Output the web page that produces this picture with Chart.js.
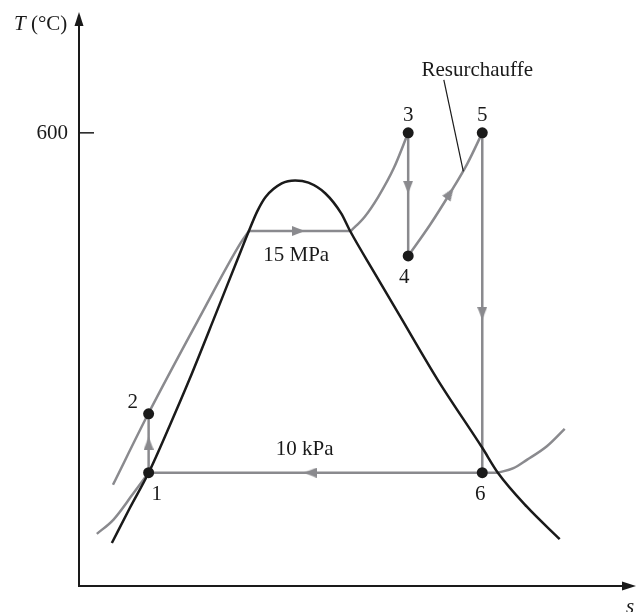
<!DOCTYPE html>
<html>
<head>
<meta charset="utf-8">
<script src="https://cdn.jsdelivr.net/npm/chart.js@4.4.1/dist/chart.umd.min.js"></script>
<style>
  html, body { margin: 0; padding: 0; background: #fff; }
  canvas { display: block; }
</style>
</head>
<body>
<canvas id="tsChart" width="644" height="612"></canvas>
<script>
// Cloche de saturation
const domeS = [0.59, 0.91, 1.25, 1.62, 1.98, 2.46, 2.87, 3.05, 3.20, 3.35, 3.64, 3.88, 4.12, 4.42, 4.71, 4.86, 5.31, 5.75, 6.44, 7.24, 7.52, 8.04, 8.63];
const domeT = [57, 103, 150, 211, 273, 361, 437, 470, 496, 515, 533, 537, 534, 520, 493, 471, 414, 359, 273, 183, 150, 105, 62];

// États du cycle
const etatLabels = ['1', '2', '3', '4', '5', '6'];
const etatS = [1.25, 1.25, 5.91, 5.91, 7.24, 7.24];
const etatT = [150, 228, 600, 437, 600, 150];

// Isobare 15 MPa
const hpLiqS = [0.61, 1.25, 2.16, 2.90, 3.05];
const hpLiqT = [134, 229, 355, 454, 470];
const hpVapS = [3.05, 4.88];
const hpVapT = [470, 470];
const hpSurS = [4.88, 5.13, 5.37, 5.65, 5.91];
const hpSurT = [470, 489, 515, 553, 600];

// Resurchauffe 4 -> 5
const rehS = [5.91, 6.30, 6.66, 6.97, 7.24];
const rehT = [437, 478, 520, 559, 600];

// Isobare 10 kPa
const bpLiqS = [0.32, 0.62, 0.97, 1.25];
const bpLiqT = [69, 88, 122, 150];
const bpCondS = [7.52, 1.25];
const bpCondT = [150, 150];
const bpVapS = [7.52, 7.80, 8.04, 8.40, 8.72];
const bpVapT = [150, 156, 167, 185, 208];

// Flèches (sens de parcours)
const flecheS = [1.25, 3.94, 5.91, 6.66, 7.24, 4.15];
const flecheT = [189, 470, 528, 520, 361, 150];
const flecheAngle = [0, 90, 180, 34, 180, 270];

const yTicks = [600];

const GRIS = '#8a8a8e';
const NOIR = '#1a1a1a';
const FONT = '"Liberation Serif", "DejaVu Serif", serif';

const pts = (xs, ys) => xs.map((v, i) => ({ x: v, y: ys[i] }));

// petite pointe de flèche (vers le haut), tournée ensuite par Chart.js
const pointe = document.createElement('canvas');
pointe.width = 10;
pointe.height = 13;
const pc = pointe.getContext('2d');
pc.fillStyle = GRIS;
pc.beginPath();
pc.moveTo(5, 0);
pc.lineTo(10, 13);
pc.lineTo(0, 13);
pc.closePath();
pc.fill();

function ligne(xs, ys, color, courbe, order) {
    return {
        data: pts(xs, ys),
        showLine: true,
        borderColor: color,
        borderWidth: 2.5,
        pointRadius: 0,
        cubicInterpolationMode: courbe ? 'monotone' : 'default',
        tension: 0,
        fill: false,
        order: order
    };
}

const labelOffsets = [[8, 22], [-16, -11], [0, -17], [-4, 22], [0, -17], [-2, 22]];

const annotations = {
    id: 'annotations',
    afterDraw(chart) {
        const { ctx, chartArea: a, scales: { x, y } } = chart;
        ctx.save();

        // axes
        ctx.strokeStyle = NOIR;
        ctx.fillStyle = NOIR;
        ctx.lineWidth = 2;
        ctx.beginPath();
        ctx.moveTo(a.left, a.top + 8);
        ctx.lineTo(a.left, a.bottom);
        ctx.lineTo(a.right - 8, a.bottom);
        ctx.stroke();
        ctx.beginPath();
        ctx.moveTo(a.left, a.top);
        ctx.lineTo(a.left - 4.5, a.top + 14);
        ctx.lineTo(a.left + 4.5, a.top + 14);
        ctx.closePath();
        ctx.fill();
        ctx.beginPath();
        ctx.moveTo(a.right, a.bottom);
        ctx.lineTo(a.right - 14, a.bottom - 4.5);
        ctx.lineTo(a.right - 14, a.bottom + 4.5);
        ctx.closePath();
        ctx.fill();

        // graduations
        ctx.lineWidth = 1.5;
        ctx.font = '21px ' + FONT;
        ctx.textAlign = 'right';
        ctx.textBaseline = 'middle';
        yTicks.forEach(t => {
            const py = y.getPixelForValue(t);
            ctx.beginPath();
            ctx.moveTo(a.left, py);
            ctx.lineTo(a.left + 15, py);
            ctx.stroke();
            ctx.fillText(String(t), a.left - 11, py + 1);
        });

        // titres des axes
        ctx.textAlign = 'left';
        ctx.textBaseline = 'alphabetic';
        ctx.font = 'italic 21px ' + FONT;
        ctx.fillText('T', 14, 30);
        const wT = ctx.measureText('T').width;
        ctx.font = '21px ' + FONT;
        ctx.fillText(' (°C)', 14 + wT, 30);
        ctx.font = 'italic 21px ' + FONT;
        ctx.textAlign = 'center';
        ctx.textBaseline = 'middle';
        ctx.fillText('s', a.right - 6, a.bottom + 21);

        // numéros des états
        ctx.font = '21px ' + FONT;
        etatLabels.forEach((lab, i) => {
            const px = x.getPixelForValue(etatS[i]) + labelOffsets[i][0];
            const py = y.getPixelForValue(etatT[i]) + labelOffsets[i][1];
            ctx.fillText(lab, px, py);
        });

        // pressions
        ctx.fillText('15 MPa', x.getPixelForValue(3.90), y.getPixelForValue(438));
        ctx.fillText('10 kPa', x.getPixelForValue(4.05), y.getPixelForValue(181));

        // Resurchauffe + trait de rappel
        ctx.fillText('Resurchauffe', x.getPixelForValue(7.15), y.getPixelForValue(683));
        ctx.lineWidth = 1.2;
        ctx.beginPath();
        ctx.moveTo(x.getPixelForValue(6.55), y.getPixelForValue(670));
        ctx.lineTo(x.getPixelForValue(6.90), y.getPixelForValue(549));
        ctx.stroke();

        ctx.restore();
    }
};

const ctx = document.getElementById('tsChart').getContext('2d');
new Chart(ctx, {
    type: 'scatter',
    data: {
        datasets: [
            {
                data: pts(etatS, etatT),
                pointRadius: 5.5,
                pointBackgroundColor: NOIR,
                pointBorderWidth: 0,
                showLine: false,
                order: 0
            },
            {
                data: pts(flecheS, flecheT),
                pointStyle: pointe,
                rotation: flecheAngle,
                pointRadius: 7,
                showLine: false,
                order: 1
            },
            ligne(domeS, domeT, NOIR, true, 2),
            ligne(hpLiqS, hpLiqT, GRIS, true, 3),
            ligne(hpVapS, hpVapT, GRIS, false, 3),
            ligne(hpSurS, hpSurT, GRIS, true, 3),
            ligne([etatS[2], etatS[3]], [etatT[2], etatT[3]], GRIS, false, 3),
            ligne(rehS, rehT, GRIS, true, 3),
            ligne([etatS[4], etatS[5]], [etatT[4], etatT[5]], GRIS, false, 3),
            ligne(bpCondS, bpCondT, GRIS, false, 3),
            ligne([etatS[0], etatS[1]], [etatT[0], etatT[1]], GRIS, false, 3),
            ligne(bpLiqS, bpLiqT, GRIS, true, 3),
            ligne(bpVapS, bpVapT, GRIS, true, 3)
        ]
    },
    options: {
        responsive: false,
        animation: false,
        layout: { padding: { left: 79, right: 4, top: 12, bottom: 26 } },
        plugins: {
            legend: { display: false },
            tooltip: { enabled: false }
        },
        scales: {
            x: { type: 'linear', min: 0, max: 10, display: false },
            y: { type: 'linear', min: 0, max: 760, display: false }
        }
    },
    plugins: [annotations]
});
</script>
</body>
</html>
